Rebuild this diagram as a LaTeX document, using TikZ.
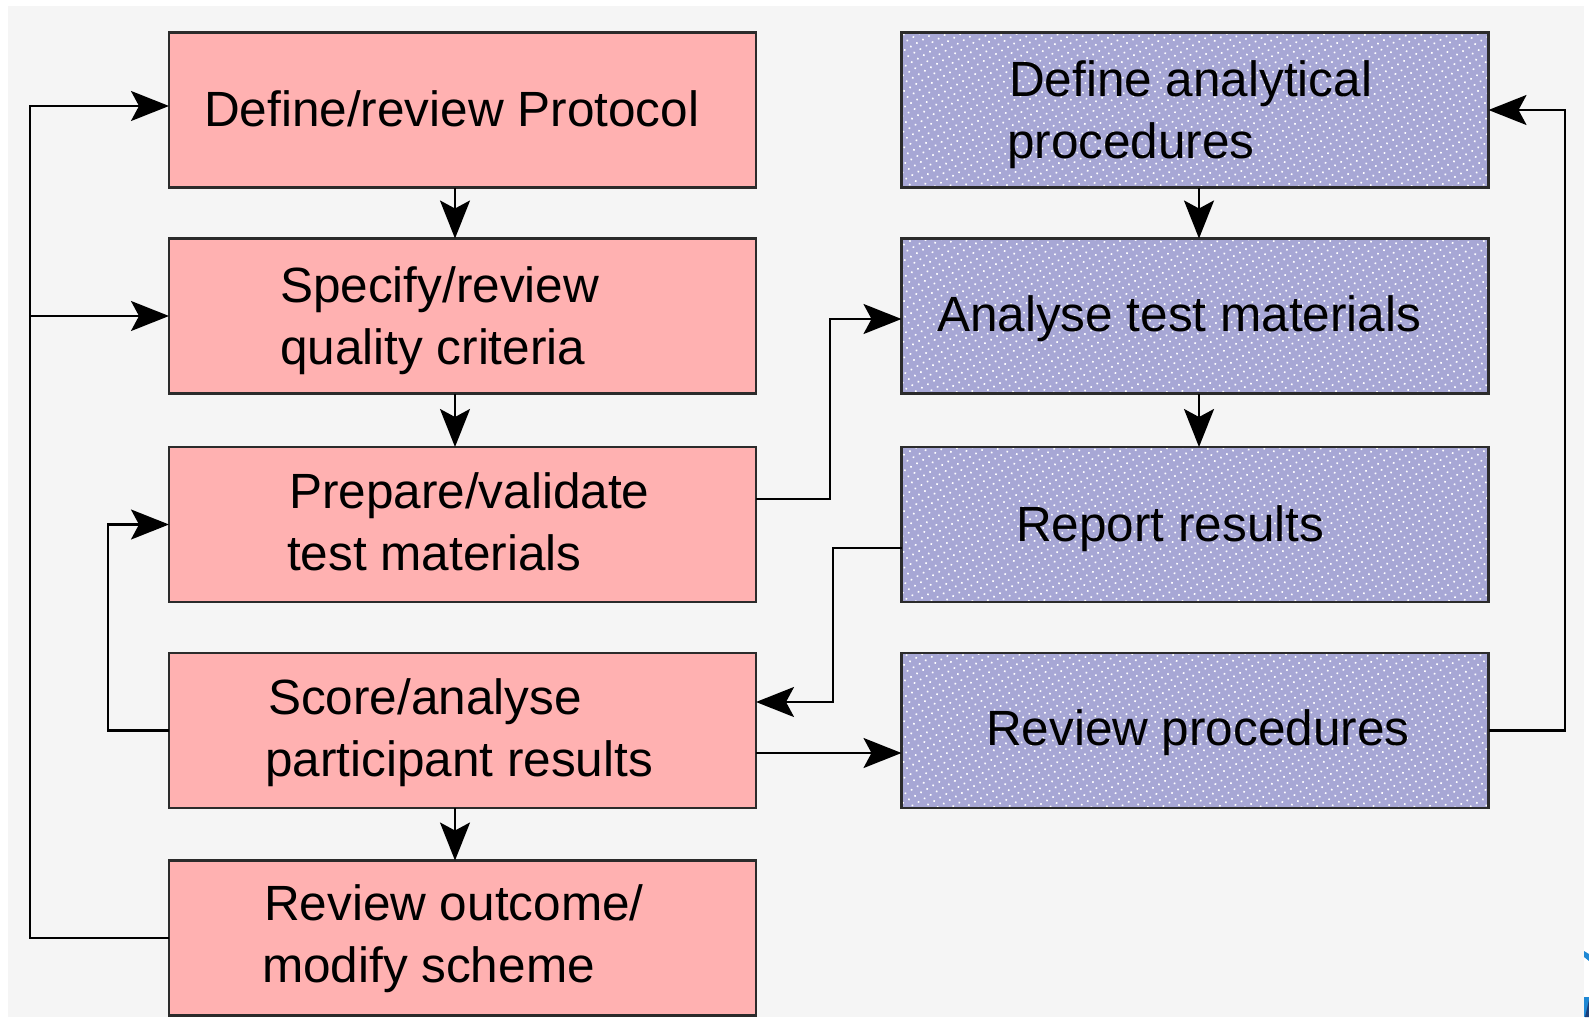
\documentclass[tikz,border=0pt]{standalone}
\usepackage{fontspec}
\setmainfont{Liberation Sans}
\usetikzlibrary{arrows.meta,patterns.meta}

\definecolor{pagebg}{HTML}{F5F5F5}
\definecolor{pinkfill}{HTML}{FFB1B1}
\definecolor{bluefill}{HTML}{A7A7D5}
\definecolor{boxline}{HTML}{2B2B2B}
\definecolor{logoblue}{HTML}{1F88D4}
\definecolor{logonavy}{HTML}{1A3F7A}

\begin{document}
\begin{tikzpicture}[x=1pt,y=-1pt,
  box/.style={draw=boxline, line width=2.6pt, minimum width=587pt,
    minimum height=155pt, inner sep=0pt, outer sep=0pt},
  pinkbox/.style={box, fill=pinkfill},
  bluebox/.style={box, preaction={fill=bluefill},
    pattern={Dots[distance=7pt,radius=1.15pt,angle=30]},
    pattern color=white},
  lbl/.style={anchor=base west, inner sep=0pt, outer sep=0pt,
    font=\fontsize{49.5pt}{60pt}\selectfont},
  conn/.style={draw=black, line width=2.3pt},
  arr/.style={conn, -{Stealth[length=38pt,width=30pt,inset=8pt]}},
]
\useasboundingbox (0,0) rectangle (1589,1017);

% page and panel background
\fill[white] (0,0) rectangle (1589,1017);
\fill[pagebg] (8,6) rectangle (1584,1017);

% corner logo fragments
\fill[logoblue] (1584,951) -- (1589,954) -- (1589,961) -- (1584,957) -- cycle;
\fill[logoblue] (1584,997) rectangle (1589,1017);
\fill[logonavy] (1589,1000) -- (1589,1017) -- (1585,1017) -- cycle;

% scheme steps (left column)
\node[pinkbox] (p1) at (462.5,110) {};
\node[pinkbox] (p2) at (462.5,316) {};
\node[pinkbox] (p3) at (462.5,524.5) {};
\node[pinkbox] (p4) at (462.5,730.5) {};
\node[pinkbox] (p5) at (462.5,938) {};

% laboratory steps (right column)
\node[bluebox] (b1) at (1195,110) {};
\node[bluebox] (b2) at (1195,316) {};
\node[bluebox] (b3) at (1195,524.5) {};
\node[bluebox] (b4) at (1195,730.5) {};

% routing columns
\coordinate (busL) at (30,0);
\coordinate (busM) at (108,0);
\coordinate (pcol) at (455,0);
\coordinate (bcol) at (1199,0);
\coordinate (busA) at (830,0);
\coordinate (busB) at (833,0);
\coordinate (busR) at (1565,0);

% connector end points off the box centres
\coordinate (p1in) at ([yshift=4pt]p1.west);
\coordinate (p3out) at ([yshift=25.5pt]p3.east);
\coordinate (b2in) at ([yshift=-3pt]b2.west);
\coordinate (b3out) at ([yshift=-23.5pt]b3.west);
\coordinate (p4in) at ([yshift=28.5pt]p4.east);
\coordinate (p4out) at ([yshift=-22.5pt]p4.east);

% straight steps
\draw[arr] (p1.south -| pcol) -- (p2.north -| pcol);
\draw[arr] (p2.south -| pcol) -- (p3.north -| pcol);
\draw[arr] (p4.south -| pcol) -- (p5.north -| pcol);
\draw[arr] (b1.south -| bcol) -- (b2.north -| bcol);
\draw[arr] (b2.south -| bcol) -- (b3.north -| bcol);

% feedback loops
\draw[arr] (p5.west) -- (busL |- p5.west) -- (busL |- p1in) -- (p1in);
\draw[arr] (busL |- p2.west) -- (p2.west);
\draw[arr] (p4.west) -- (busM |- p4.west) -- (busM |- p3.west) -- (p3.west);

% cross links between the columns
\draw[arr] (p3out) -- (busA |- p3out) -- (busA |- b2in) -- (b2in);
\draw[arr] (b3out) -- (busB |- b3out) -- (busB |- p4in) -- (p4in);
\draw[arr] (p4out) -- (b4.west |- p4out);
\draw[arr] (b4.east) -- (busR |- b4.east) -- (busR |- b1.east) -- (b1.east);

% labels
\node[lbl] (t1) at (204,126) {Define/review Protocol};
\node[lbl] (t2a) at (280,302) {Specify/review};
\node[lbl] (t2b) at (280,364) {quality criteria};
\node[lbl] (t3a) at (289,508) {Prepare/validate};
\node[lbl] (t3b) at (287,570) {test materials};
\node[lbl] (t4a) at (268,714) {Score/analyse};
\node[lbl] (t4b) at (265,776) {participant results};
\node[lbl] (t5a) at (264,920) {Review outcome/};
\node[lbl] (t5b) at (262,982) {modify scheme};
\node[lbl] (u1a) at (1009,96) {Define analytical};
\node[lbl] (u1b) at (1007,158) {procedures};
\node[lbl] (u2) at (937,331) {Analyse test materials};
\node[lbl] (u3) at (1016,541) {Report results};
\node[lbl] (u4) at (986,745) {Review procedures};
\end{tikzpicture}
\end{document}
